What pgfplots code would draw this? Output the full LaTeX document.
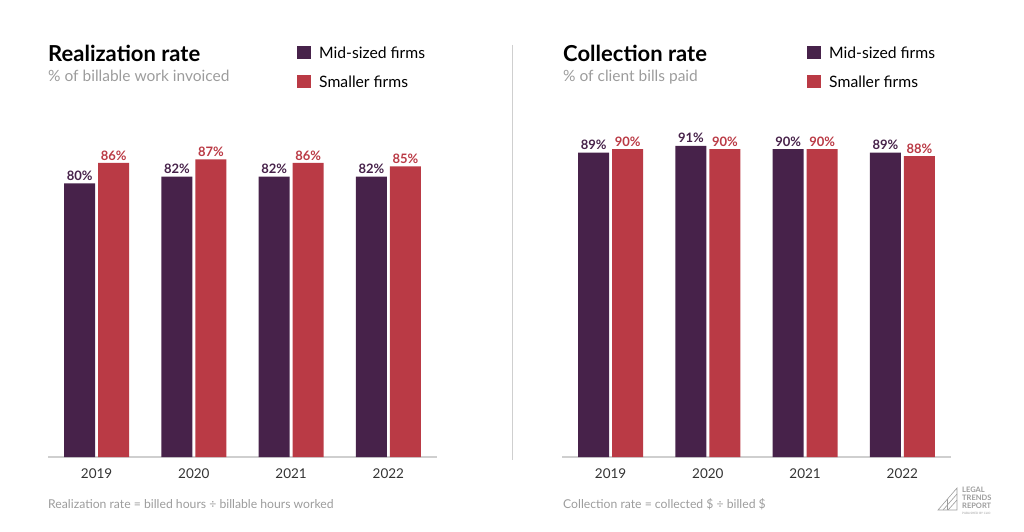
\documentclass[border=0pt]{standalone}
\usepackage{fontspec}
\setmainfont{Lato}
\usepackage{pgfplots}
\pgfplotsset{compat=1.18}
\definecolor{mid}{HTML}{47224A}
\definecolor{small}{HTML}{BA3A45}
\definecolor{txt}{HTML}{333333}
\definecolor{sub}{HTML}{9C9C9C}
\definecolor{rule}{HTML}{CFCFCF}
\begin{document}
\begin{tikzpicture}[x=1pt,y=1pt]
\path[use as bounding box] (0,0) rectangle (1024,531);
\pgfplotsset{panel/.style={scale only axis, width=389pt, height=342pt,
  xmin=-0.5, xmax=3.5, ymin=0, ymax=100, ybar=3pt, bar width=31pt,
  axis x line*=bottom, axis y line=none,
  x axis line style={draw=rule, line width=1.3pt, -},
  xtick={0,1,2,3}, xticklabels={2019,2020,2021,2022}, major tick length=0pt,
  /pgf/number format/assume math mode=true,
  xticklabel style={font=\fontsize{13.5}{13.5}\selectfont, text=txt, yshift=-8pt},
  nodes near coords={\pgfmathprintnumber{\pgfplotspointmeta}\%},
  nodes near coords style={font=\bfseries\fontsize{13}{13}\selectfont, inner sep=2.5pt},
  clip=false}}
% left panel
\begin{axis}[panel, at={(48pt,74pt)}, anchor=south west]
\addplot[fill=mid, draw=none, every node near coord/.append style={text=mid}] coordinates {(0,80) (1,82) (2,82) (3,82)};
\addplot[fill=small, draw=none, every node near coord/.append style={text=small}] coordinates {(0,86) (1,87) (2,86) (3,85)};
\end{axis}
% right panel
\begin{axis}[panel, at={(562pt,74pt)}, anchor=south west]
\addplot[fill=mid, draw=none, every node near coord/.append style={text=mid}] coordinates {(0,89) (1,91) (2,90) (3,89)};
\addplot[fill=small, draw=none, every node near coord/.append style={text=small}] coordinates {(0,90) (1,90) (2,90) (3,88)};
\end{axis}
% divider
\draw[rule, line width=1pt] (512,486) -- (512,71);
% titles
\node[anchor=base west, inner sep=0, font=\bfseries\fontsize{22}{22}\selectfont] at (48,469) {Realization rate};
\node[anchor=base west, inner sep=0, font=\fontsize{15.5}{15.5}\selectfont, text=sub] at (48,449) {\% of billable work invoiced};
\node[anchor=base west, inner sep=0, font=\bfseries\fontsize{22}{22}\selectfont] at (563,469) {Collection rate};
\node[anchor=base west, inner sep=0, font=\fontsize{15.5}{15.5}\selectfont, text=sub] at (563,449) {\% of client bills paid};
% legends
\foreach \lx in {297,807}{
  \fill[mid] (\lx,471.5) rectangle ++(14,13);
  \fill[small] (\lx,442.5) rectangle ++(14,13);
  \node[anchor=west, inner sep=0, font=\fontsize{15.7}{15.7}\selectfont, text=black] at (\lx+22,478) {Mid-sized firms};
  \node[anchor=west, inner sep=0, font=\fontsize{15.7}{15.7}\selectfont, text=black] at (\lx+22,449) {Smaller firms};
}
% footnotes
\node[anchor=west, inner sep=0, font=\fontsize{12.2}{12.2}\selectfont, text=sub] at (48,27) {Realization rate = billed hours ÷ billable hours worked};
\node[anchor=west, inner sep=0, font=\fontsize{12.2}{12.2}\selectfont, text=sub] at (563,27) {Collection rate = collected \$ ÷ billed \$};
% logo
\begin{scope}[draw=sub, line width=0.6pt]
\draw (938,21) -- (957,43) -- (957,21) -- cycle;
\draw (943,21) -- (957,37);
\draw (948,21) -- (957,31);
\draw (947,21) -- (947,32);
\end{scope}
\node[anchor=west, inner sep=0, font=\bfseries\fontsize{7.5}{7.5}\selectfont, text=sub] at (962,41) {LEGAL};
\node[anchor=west, inner sep=0, font=\bfseries\fontsize{7.5}{7.5}\selectfont, text=sub] at (962,33) {TRENDS};
\node[anchor=west, inner sep=0, font=\bfseries\fontsize{7.5}{7.5}\selectfont, text=sub] at (962,25) {REPORT};
\node[anchor=west, inner sep=0, font=\fontsize{3}{3}\selectfont, text=sub] at (962,18) {PUBLISHED BY CLIO};
\end{tikzpicture}
\end{document}
